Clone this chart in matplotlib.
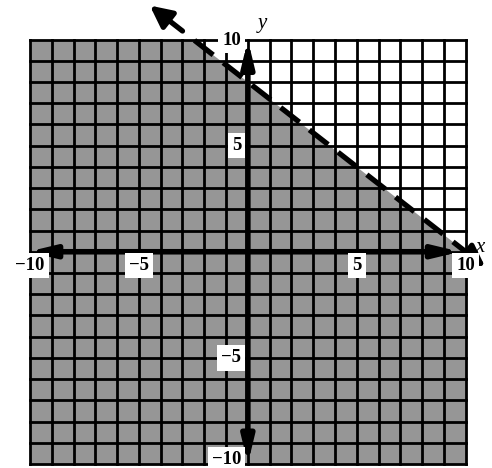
import numpy as np
import matplotlib
matplotlib.use("Agg")
import matplotlib.pyplot as plt

# Data
slope = -0.8
intercept = 8
grid_min, grid_max = -10, 10
x_tick_vals = [-10, -5, 5, 10]
x_tick_labels = ["\u221210", "\u22125", "5", "10"]
y_tick_vals = [10, 5, -5, -10]
y_tick_labels = ["10", "5", "\u22125", "\u221210"]

W, H = 492, 468
fig = plt.figure(figsize=(W / 100, H / 100), dpi=100)
ax = fig.add_axes([30 / W, 4 / H, 435.7 / W, 424.5 / H])
ax.set_xlim(grid_min, grid_max)
ax.set_ylim(grid_min, grid_max)
ax.axis("off")

# shading below the line
xs = np.linspace(grid_min, grid_max, 400)
ys = np.minimum(slope * xs + intercept, grid_max)
ax.fill_between(xs, grid_min, ys, color="#969696", lw=0, zorder=1)

# grid
for v in range(grid_min, grid_max + 1):
    ax.plot([v, v], [grid_min, grid_max], color="black", lw=2.0, zorder=2, solid_capstyle="projecting", clip_on=False)
    ax.plot([grid_min, grid_max], [v, v], color="black", lw=2.0, zorder=2, solid_capstyle="projecting", clip_on=False)

# axes with arrows
akw = dict(arrowstyle="<|-|>,head_length=0.75,head_width=0.18", lw=4.0, color="black",
           mutation_scale=20, shrinkA=0, shrinkB=0)
ax.annotate("", xy=(9.75, 0), xytext=(-10.1, 0), arrowprops=akw, annotation_clip=False, zorder=4)
ax.annotate("", xy=(0, 10), xytext=(0, -10), arrowprops=akw, annotation_clip=False, zorder=4)

# dashed boundary line
x0, x1 = -2.45, 10.0
ax.plot([x0, x1], [slope * x0 + intercept, slope * x1 + intercept], color="black", lw=3.8,
        ls=(0, (4.5, 2.4)), zorder=5, clip_on=False)
# arrowheads on the line
bkw = dict(arrowstyle="-|>,head_length=0.65,head_width=0.32", lw=3.8, color="black",
           mutation_scale=20, shrinkA=0, shrinkB=0)
xa, xb = -3.0, -4.5
ax.annotate("", xy=(xb, slope * xb + intercept), xytext=(xa, slope * xa + intercept),
            arrowprops=bkw, annotation_clip=False, zorder=5)
xa, xb = 10.0, 10.9
ax.annotate("", xy=(xb, slope * xb + intercept), xytext=(xa, slope * xa + intercept),
            arrowprops=bkw, annotation_clip=False, zorder=5)

# tick labels
font = dict(family="Liberation Serif", fontsize=13.5, fontweight="bold")
box = dict(facecolor="white", edgecolor="none", pad=3)
for v, lab in zip(x_tick_vals, x_tick_labels):
    ax.text(v, -0.66, lab, ha="center", va="center", bbox=box, zorder=6, **font)
y_pos = {10: 9.95, 5: 5.0, -5: -5.0, -10: -9.8}
for v, lab in zip(y_tick_vals, y_tick_labels):
    ax.text(-0.3, y_pos[v], lab, ha="right", va="center", bbox=box, zorder=6, **font)

ax.text(0.65, 10.75, "y", family="Liberation Serif", style="italic", fontsize=15, ha="center", va="center", zorder=6)
ax.text(10.64, 0.2, "x", family="Liberation Serif", style="italic", fontsize=15, ha="center", va="center", zorder=6)

fig.savefig("out.png", dpi=100, facecolor="white")
